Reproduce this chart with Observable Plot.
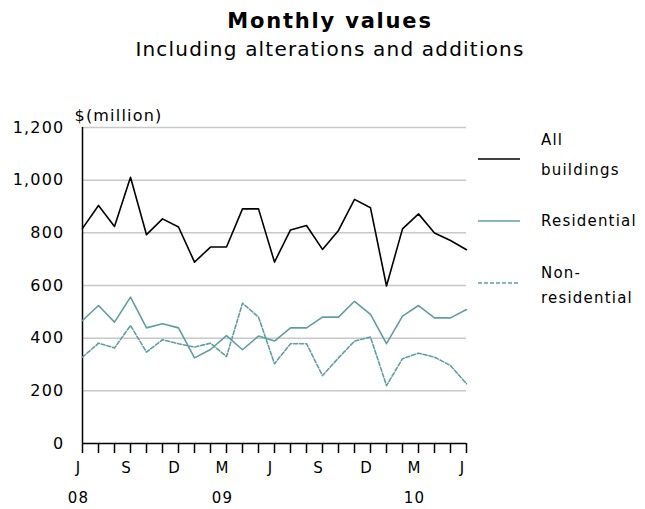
<!DOCTYPE html>
<html><head><meta charset="utf-8">
<script src="https://cdn.jsdelivr.net/npm/d3@7"></script>
<script src="https://cdn.jsdelivr.net/npm/@observablehq/plot@0.6"></script>
<style>
body{margin:0;background:#fff;font-family:"DejaVu Sans",sans-serif;}
#wrap{position:relative;width:645px;height:509px;overflow:hidden;}
#head{position:relative;height:90px;}
.t{position:absolute;left:0;width:660px;text-align:center;white-space:nowrap;color:#000;line-height:20px;}
#title{top:11px;font-size:21px;font-weight:bold;letter-spacing:1.8px;}
#sub{top:39px;font-size:20px;letter-spacing:1.2px;}
</style></head>
<body>
<div id="wrap">
<div id="head"><div class="t" id="title">Monthly values</div><div class="t" id="sub">Including alterations and additions</div></div>
<div id="chart"></div>
</div>
<script>
const months = ["Jun 2008","Jul 2008","Aug 2008","Sep 2008","Oct 2008","Nov 2008","Dec 2008","Jan 2009","Feb 2009","Mar 2009","Apr 2009","May 2009","Jun 2009","Jul 2009","Aug 2009","Sep 2009","Oct 2009","Nov 2009","Dec 2009","Jan 2010","Feb 2010","Mar 2010","Apr 2010","May 2010","Jun 2010"];
const allBuildings = [817,904,824,1011,793,853,822,689,746,746,891,891,689,811,828,737,809,927,895,598,815,872,799,771,736];
const residential = [467,524,461,556,439,455,439,325,357,410,356,408,389,439,439,480,480,540,490,379,484,524,477,477,509];
const nonResidential = [328,381,363,448,347,394,379,366,381,330,533,480,303,379,379,258,325,389,404,220,322,343,328,296,227];
const seriesNames = ["All buildings","Residential","Non-residential"];
const seriesValues = [allBuildings, residential, nonResidential];
const monthTickMonths = ["Jun 2008","Sep 2008","Dec 2008","Mar 2009","Jun 2009","Sep 2009","Dec 2009","Mar 2010","Jun 2010"];
const monthTickLabels = ["J","S","D","M","J","S","D","M","J"];
const yearLabelMonths = ["Jun 2008","Mar 2009","Mar 2010"];
const yearLabels = ["08","09","10"];
const yTicks = [0,200,400,600,800,1000,1200];
const yUnit = "$(million)";

const idx = m => months.indexOf(m);
const rows = seriesNames.flatMap((s, k) => seriesValues[k].map((v, i) => ({series: s, i, value: v})));
const teal = "#5f9f9f";
const styles = {
  "All buildings": {stroke: "#000", dash: null},
  "Residential": {stroke: teal, dash: null},
  "Non-residential": {stroke: teal, dash: "4,2"}
};
const monthTicks = monthTickMonths.map((m, k) => ({i: idx(m), label: monthTickLabels[k]}));
const yearTicks = yearLabelMonths.map((m, k) => ({i: idx(m), label: yearLabels[k]}));

const plot = Plot.plot({
  width: 645, height: 419,
  marginLeft: 82, marginRight: 179, marginTop: 37, marginBottom: 66,
  style: {fontFamily: "DejaVu Sans", fontSize: "15px", letterSpacing: "1.2px", background: "#fff", color: "#000"},
  x: {type: "linear", domain: [0, months.length - 1]},
  y: {domain: [0, 1200]},
  marks: [
    Plot.gridY(yTicks.filter(d => d > 0), {stroke: "#c8c8c8", strokeOpacity: 1, strokeWidth: 1.5}),
    Plot.axisY(yTicks, {tickSize: 0, tickPadding: 18, tickFormat: d3.format(","), label: null, fontSize: 16}),
    Plot.axisX(d3.range(months.length), {tickSize: 10, tickFormat: () => "", label: null, stroke: "#000", strokeWidth: 1.5}),
    Plot.text(monthTicks, {x: "i", text: "label", frameAnchor: "bottom", dy: 29, dx: -4, fontSize: 15}),
    Plot.text(yearTicks, {x: "i", text: "label", frameAnchor: "bottom", dy: 59, dx: -4, fontSize: 15}),
    Plot.text([yUnit], {frameAnchor: "top-left", text: d => d, dx: -8, dy: -18, textAnchor: "start", fontSize: 16, letterSpacing: "1.9px"}),
    Plot.ruleX([0], {y1: 0, y2: 1200, stroke: "#000", strokeWidth: 1.5}),
    Plot.ruleY([0], {stroke: "#000", strokeWidth: 1.5}),
    ...seriesNames.map(s => Plot.lineY(rows.filter(r => r.series === s), {
      x: "i", y: "value", stroke: styles[s].stroke, strokeWidth: 1.6,
      strokeDasharray: styles[s].dash, curve: "linear"
    }))
  ]
});
document.getElementById("chart").appendChild(plot);

// legend
const svg = d3.select(plot);
const lg = svg.append("g").attr("font-family", "DejaVu Sans").attr("font-size", 15)
  .attr("letter-spacing", "1.2px").attr("text-anchor", "start");
const legendItems = [
  {name: seriesNames[0], lines: ["All", "buildings"], ly: 69, ty: [55, 85]},
  {name: seriesNames[1], lines: ["Residential"], ly: 131, ty: [136]},
  {name: seriesNames[2], lines: ["Non-", "residential"], ly: 193, ty: [188, 213]}
];
legendItems.forEach(it => {
  const st = styles[it.name];
  lg.append("line").attr("x1", 478).attr("x2", 520).attr("y1", it.ly).attr("y2", it.ly)
    .attr("stroke", st.stroke).attr("stroke-width", 1.6).attr("stroke-dasharray", st.dash);
  it.lines.forEach((t, k) => lg.append("text").attr("x", 541).attr("y", it.ty[k])
    .attr("fill", "#000").attr("text-anchor", "start").text(t));
});
</script>
</body></html>
